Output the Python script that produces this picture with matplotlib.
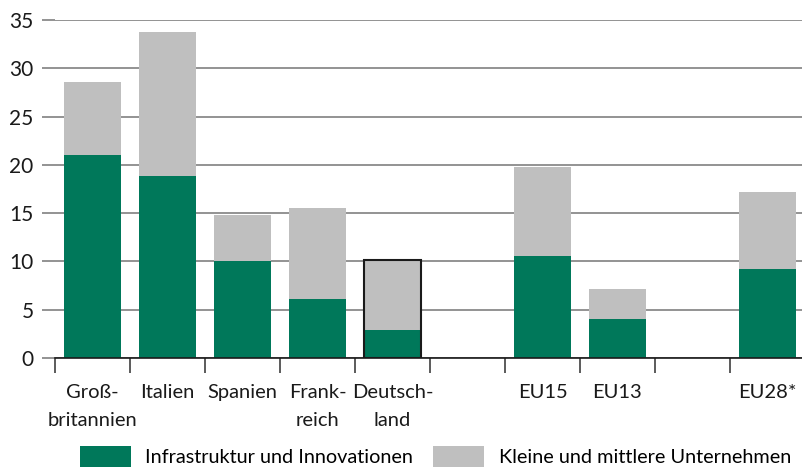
import matplotlib
matplotlib.use("Agg")
import matplotlib.pyplot as plt
import numpy as np

categories = ["Groß-\nbritannien", "Italien", "Spanien", "Frank-\nreich", "Deutsch-\nland", "",
              "EU15", "EU13", "", "EU28*"]
infra = [21.0, 18.85, 10.0, 6.1, 2.9, np.nan, 10.55, 4.05, np.nan, 9.2]
kmu = [7.6, 14.9, 4.8, 9.45, 7.25, np.nan, 9.25, 3.1, np.nan, 8.0]
series_names = ["Infrastruktur und Innovationen", "Kleine und mittlere Unternehmen"]

green = "#00785A"
grey = "#BFBFBF"

plt.rcParams['font.family'] = ['Lato', 'DejaVu Sans']

fig = plt.figure(figsize=(8.02, 4.68), dpi=100)
ax = fig.add_axes([55/802, 110/468, 750/802, 338/468])

x = np.arange(len(categories))
infra_a = np.array(infra, dtype=float)
kmu_a = np.array(kmu, dtype=float)
w = 0.76
b1 = ax.bar(x, infra_a, w, color=green, zorder=3, label=series_names[0])
b2 = ax.bar(x, kmu_a, w, bottom=infra_a, color=grey, zorder=3, label=series_names[1])

# highlight Deutschland
di = 4
ax.bar(x[di], infra_a[di] + kmu_a[di], w, fill=False, edgecolor="#1a1a1a", linewidth=1.5, zorder=4)

ax.set_xlim(-0.5, 9.5)
ax.set_ylim(0, 35)
ax.set_yticks(np.arange(0, 36, 5))
ax.yaxis.grid(True, color="#808080", linewidth=1.2, zorder=0)
ax.tick_params(axis='y', length=9.5, width=1.2, labelsize=15, pad=6, labelcolor="#1a1a1a", color="#808080")

ax.set_xticks(x)
ax.set_xticklabels(categories, fontsize=14.5, linespacing=1.75)
ax.tick_params(axis='x', which='major', length=0, pad=19, labelcolor="#1a1a1a")
ax.set_xticks(np.arange(-0.5, 9.6, 1.0), minor=True)
ax.tick_params(axis='x', which='minor', length=11, width=1.2, color="#404040")

for s in ["top", "right", "left"]:
    ax.spines[s].set_visible(False)
ax.spines["bottom"].set_color("#1a1a1a")
ax.spines["bottom"].set_linewidth(1.2)
ax.spines["bottom"].set_zorder(5)

fig.legend(handles=[b1, b2], labels=series_names, loc="lower center",
           bbox_to_anchor=(0.543, -0.035), ncol=2, frameon=False, fontsize=14.3,
           handlelength=2.55, handleheight=1.2, handletextpad=0.75, columnspacing=1.0)

fig.savefig("out.png", dpi=100)
